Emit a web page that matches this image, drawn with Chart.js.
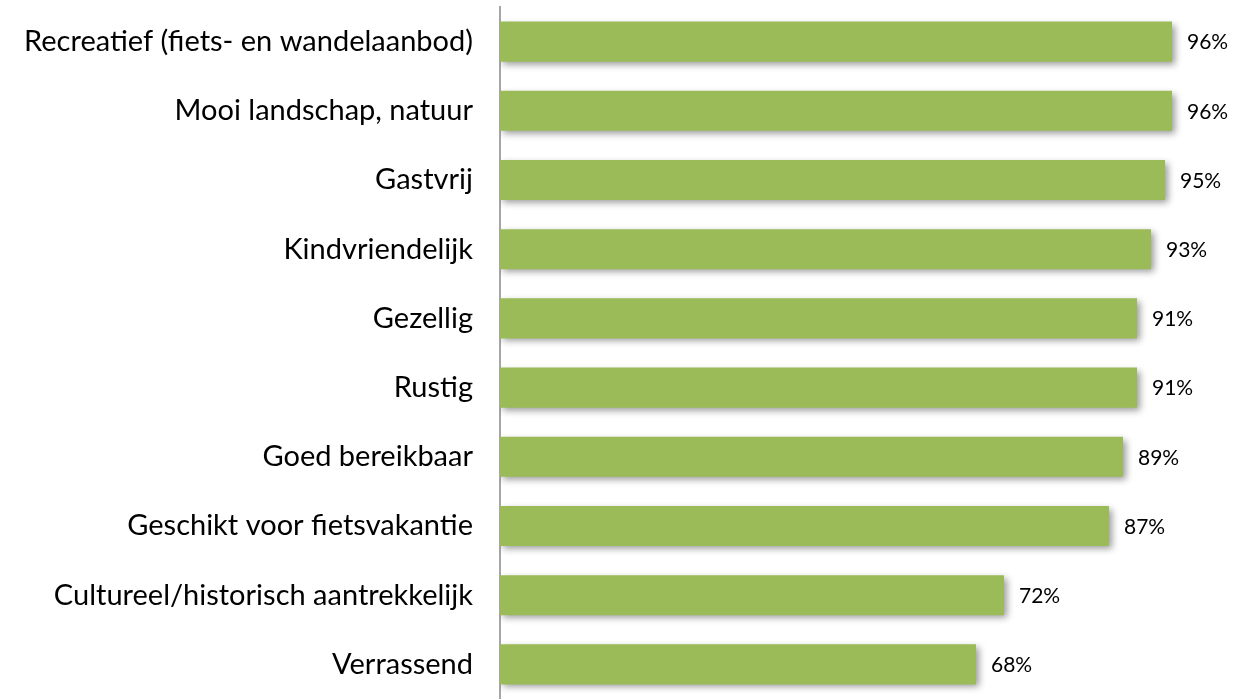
<!DOCTYPE html>
<html>
<head>
<meta charset="utf-8">
<script src="https://cdn.jsdelivr.net/npm/chart.js@4/dist/chart.umd.min.js"></script>
<style>
  html, body { margin: 0; padding: 0; background: #fff; }
  #wrap { width: 1237px; height: 699px; }
</style>
</head>
<body>
<div id="wrap"><canvas id="chart" width="1237" height="699"></canvas></div>
<script>
const categories = [
  "Recreatief (fiets- en wandelaanbod)",
  "Mooi landschap, natuur",
  "Gastvrij",
  "Kindvriendelijk",
  "Gezellig",
  "Rustig",
  "Goed bereikbaar",
  "Geschikt voor fietsvakantie",
  "Cultureel/historisch aantrekkelijk",
  "Verrassend"
];
const values = [96, 96, 95, 93, 91, 91, 89, 87, 72, 68];

const FONT = "Lato, 'Open Sans', sans-serif";

// drop shadow behind the bars
const barShadow = {
  id: "barShadow",
  beforeDatasetsDraw(chart) {
    const ctx = chart.ctx;
    ctx.save();
    ctx.shadowColor = "rgba(0,0,0,0.4)";
    ctx.shadowBlur = 7;
    ctx.shadowOffsetX = 3;
    ctx.shadowOffsetY = 3;
  },
  afterDatasetsDraw(chart) {
    chart.ctx.restore();
  }
};

// percentage labels right of each bar
const valueLabels = {
  id: "valueLabels",
  afterDatasetsDraw(chart) {
    const ctx = chart.ctx;
    const meta = chart.getDatasetMeta(0);
    ctx.save();
    ctx.font = "21px " + FONT;
    ctx.fillStyle = "#000";
    ctx.textAlign = "left";
    ctx.textBaseline = "middle";
    meta.data.forEach((bar, i) => {
      ctx.fillText(values[i] + "%", bar.x + 15, bar.y + 1);
    });
    ctx.restore();
  }
};

new Chart(document.getElementById("chart"), {
  type: "bar",
  data: {
    labels: categories,
    datasets: [{
      data: values,
      backgroundColor: "#9bbb59",
      borderWidth: 0,
      barPercentage: 0.58,
      categoryPercentage: 1
    }]
  },
  options: {
    indexAxis: "y",
    responsive: false,
    animation: false,
    layout: { padding: { top: 7, right: 37, bottom: -5, left: 0 } },
    plugins: {
      legend: { display: false },
      tooltip: { enabled: false }
    },
    scales: {
      x: { display: false, min: 0, max: 100 },
      y: {
        grid: { display: false, drawTicks: false },
        border: { display: true, color: "#a6a6a6", width: 2 },
        ticks: {
          color: "#000",
          padding: 27,
          font: { family: FONT, size: 29 }
        },
        afterFit(scale) {
          scale.width = 500;
          scale.paddingTop = 0;
          scale.paddingBottom = 0;
        }
      }
    }
  },
  plugins: [barShadow, valueLabels]
});
</script>
</body>
</html>
